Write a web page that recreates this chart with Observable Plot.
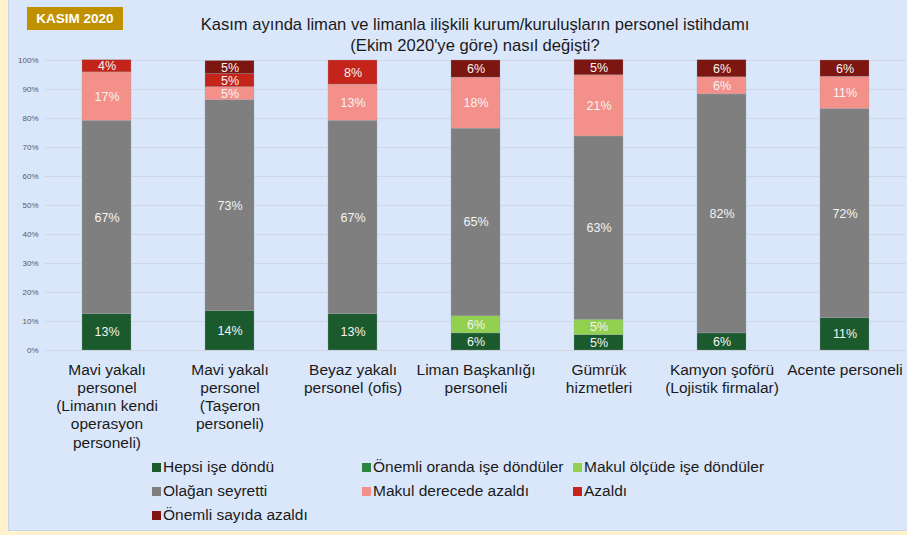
<!DOCTYPE html>
<html>
<head>
<meta charset="utf-8">
<script src="https://cdn.jsdelivr.net/npm/d3@7"></script>
<script src="https://cdn.jsdelivr.net/npm/@observablehq/plot@0.6"></script>
<style>
  html, body { margin: 0; padding: 0; }
  body { width: 907px; height: 535px; background: #fff2cc; position: relative; overflow: hidden;
         font-family: "Liberation Sans", Arial, sans-serif; }
  #panel { position: absolute; left: 8px; top: 0; width: 899px; height: 531px; background: #dae7fb;
           border-left: 1px solid #c9d6ea; border-bottom: 1px solid #c9d6ea; box-sizing: border-box; }
  #badge { position: absolute; left: 27px; top: 7px; width: 96px; height: 23px; background: #bf9000;
           color: #fff; font-weight: bold; font-size: 13.5px; line-height: 23px; text-align: center; }
  #title { position: absolute; left: 175px; width: 600px; top: 14px; text-align: center; font-size: 16.6px;
           line-height: 21px; color: #1a1a1a; }
  #chart { position: absolute; left: 0; top: 50px; }
  #legend { position: absolute; left: 152px; top: 457px; display: grid;
            grid-template-columns: 210px 211px 220px; row-gap: 4px; font-size: 15.5px; color: #1a1a1a; }
  #legend div { display: flex; align-items: center; height: 20px; white-space: nowrap; }
  #legend span.sw { width: 9px; height: 9px; display: inline-block; margin-right: 2px; }
</style>
</head>
<body>
<div id="panel"></div>
<div id="badge">KASIM 2020</div>
<div id="title">Kasım ayında liman ve limanla ilişkili kurum/kuruluşların personel istihdamı<br>(Ekim 2020'ye göre) nasıl değişti?</div>
<div id="chart"></div>
<div id="legend"></div>
<script>
// Categories (x axis labels, multi-line)
const categories = [
  "Mavi yakalı\npersonel\n(Limanın kendi\noperasyon\npersoneli)",
  "Mavi yakalı\npersonel\n(Taşeron\npersoneli)",
  "Beyaz yakalı\npersonel (ofis)",
  "Liman Başkanlığı\npersoneli",
  "Gümrük\nhizmetleri",
  "Kamyon şoförü\n(Lojistik firmalar)",
  "Acente personeli"
];

// Series names (bottom to top of stack)
const seriesNames = [
  "Hepsi işe döndü",
  "Önemli oranda işe döndüler",
  "Makul ölçüde işe döndüler",
  "Olağan seyretti",
  "Makul derecede azaldı",
  "Azaldı",
  "Önemli sayıda azaldı"
];
const seriesColors = ["#1b5a2c", "#2e8442", "#92d050", "#7f7f7f", "#f4908a", "#c4241a", "#7d1610"];

// Series values (percent) per category
const hepsi        = [12.5, 13.6, 12.5, 5.9, 5.3, 5.9, 11.1];
const onemliOranda = [0, 0, 0, 0, 0, 0, 0];
const makulOlcude  = [0, 0, 0, 5.9, 5.3, 0, 0];
const olagan       = [66.7, 72.7, 66.7, 64.7, 63.2, 82.4, 72.2];
const makulAzaldi  = [16.7, 4.5, 12.5, 17.6, 21.1, 5.9, 11.1];
const azaldi       = [4.2, 4.5, 8.3, 0, 0, 0, 0];
const onemliAzaldi = [0, 4.5, 0, 5.9, 5.3, 5.9, 5.6];

// Y tick values
const yTicks = [0, 10, 20, 30, 40, 50, 60, 70, 80, 90, 100];

const seriesValues = [hepsi, onemliOranda, makulOlcude, olagan, makulAzaldi, azaldi, onemliAzaldi];
const data = [];
categories.forEach((c, i) => {
  seriesNames.forEach((s, j) => {
    const v = seriesValues[j][i];
    if (v > 0) data.push({category: c, series: s, value: v});
  });
});

const chart = Plot.plot({
  width: 907,
  height: 410,
  marginLeft: 45,
  marginRight: 1,
  marginTop: 10,
  marginBottom: 110,
  style: {background: "transparent", fontFamily: "'Liberation Sans', Arial, sans-serif"},
  x: {domain: categories, paddingInner: 0.6, paddingOuter: 0.3, label: null},
  y: {domain: [0, 100], label: null},
  color: {domain: seriesNames, range: seriesColors},
  marks: [
    Plot.gridY(yTicks, {stroke: "#d0d7e2", strokeOpacity: 1, strokeWidth: 1}),
    Plot.axisY(yTicks, {tickSize: 0, tickPadding: 7, fontSize: 8, fill: "#595959", tickFormat: d => d + "%", label: null}),
    Plot.axisX({tickSize: 0, tickPadding: 11, fontSize: 15.5, fill: "#1a1a1a", lineHeight: 1.18, lineAnchor: "top", label: null}),
    Plot.barY(data, {x: "category", y: "value", fill: "series", order: seriesNames,
      stroke: "#9aa5b4", strokeWidth: 0.5, strokeOpacity: 0.6}),
    Plot.text(data, Plot.stackY({x: "category", y: "value", z: "series", order: seriesNames,
      text: d => Math.round(d.value) + "%", fill: "#f5f5f5", fontSize: 12.5}))
  ]
});
document.getElementById("chart").appendChild(chart);

// Legend (3 columns, row by row)
const legend = document.getElementById("legend");
seriesNames.forEach((s, j) => {
  const item = document.createElement("div");
  const sw = document.createElement("span");
  sw.className = "sw";
  sw.style.background = seriesColors[j];
  item.appendChild(sw);
  item.appendChild(document.createTextNode(s));
  legend.appendChild(item);
});
</script>
</body>
</html>
